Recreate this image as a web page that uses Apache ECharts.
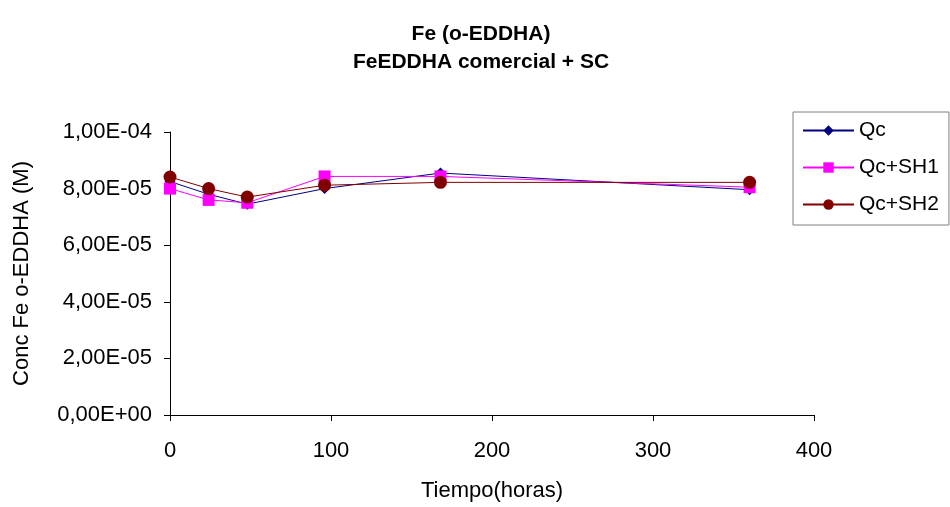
<!DOCTYPE html>
<html><head><meta charset="utf-8">
<script src="https://cdn.jsdelivr.net/npm/echarts@6/dist/echarts.min.js"></script>
<style>html,body{margin:0;padding:0;background:#fff}#c{width:950px;height:507px}</style>
</head><body><div id="c"></div>
<script>
const hours = [0, 24, 48, 96, 168, 360];
const qc = [8.25e-5, 7.8e-5, 7.45e-5, 8.0e-5, 8.55e-5, 7.96e-5];
const qcSH1 = [8.0e-5, 7.6e-5, 7.5e-5, 8.43e-5, 8.43e-5, 8.05e-5];
const qcSH2 = [8.41e-5, 8.0e-5, 7.7e-5, 8.12e-5, 8.22e-5, 8.22e-5];
const seriesNames = ['Qc', 'Qc+SH1', 'Qc+SH2'];
const titleText = 'Fe (o-EDDHA)\nFeEDDHA comercial + SC';
const xName = 'Tiempo(horas)';
const yName = 'Conc Fe o-EDDHA (M)';

function fmt(v){
  if (v === 0) return '0,00E+00';
  let s = v.toExponential(2);
  let [m, e] = s.split('e');
  let sign = e[0] === '-' ? '-' : '+';
  let d = e.replace(/[+-]/, '');
  if (d.length < 2) d = '0' + d;
  return m.replace('.', ',') + 'E' + sign + d;
}
const pair = arr => hours.map((h, i) => [h, arr[i]]);
const font = 'Liberation Sans, Arial, sans-serif';
const fs = 22;
const chart = echarts.init(document.getElementById('c'));
chart.setOption({
  animation: false,
  backgroundColor: '#fff',
  title: {
    text: titleText, left: 476, textAlign: 'center', top: 15,
    textStyle: {fontFamily: font, fontSize: 21, fontWeight: 'bold', color: '#000', lineHeight: 28}
  },
  grid: {left: 170, right: 136, top: 132, bottom: 90},
  legend: {
    orient: 'vertical', left: 793, top: 112,
    borderColor: '#808080', borderWidth: 1, padding: [8, 10, 10, 9],
    itemWidth: 51, itemHeight: 13, itemGap: 16,
    textStyle: {fontFamily: font, fontSize: 21, color: '#000', padding: [0, 0, 0, 0]},
    data: seriesNames
  },
  xAxis: {
    type: 'value', min: 0, max: 400, interval: 100,
    name: xName, nameLocation: 'middle', nameGap: 65,
    nameTextStyle: {fontFamily: font, fontSize: fs, color: '#000'},
    axisLine: {lineStyle: {color: '#000'}},
    axisTick: {lineStyle: {color: '#000'}, length: 6},
    axisLabel: {fontFamily: font, fontSize: fs, color: '#000', margin: 25},
    splitLine: {show: false}
  },
  yAxis: {
    type: 'value', min: 0, max: 1e-4, interval: 2e-5,
    name: yName, nameLocation: 'middle', nameGap: 137,
    nameTextStyle: {fontFamily: font, fontSize: fs, color: '#000'},
    axisLine: {show: true, lineStyle: {color: '#000'}},
    axisTick: {show: true, lineStyle: {color: '#000'}, length: 6},
    axisLabel: {fontFamily: font, fontSize: fs, color: '#000', margin: 18, formatter: fmt},
    splitLine: {show: false}
  },
  series: [
    {name: seriesNames[0], type: 'line', data: pair(qc), symbol: 'diamond', symbolSize: 11,
     itemStyle: {color: '#000080'}, lineStyle: {color: '#000080', width: 1}},
    {name: seriesNames[1], type: 'line', data: pair(qcSH1), symbol: 'rect', symbolSize: 12,
     itemStyle: {color: '#FF00FF'}, lineStyle: {color: '#FF00FF', width: 1}},
    {name: seriesNames[2], type: 'line', data: pair(qcSH2), symbol: 'circle', symbolSize: 13,
     itemStyle: {color: '#800000'}, lineStyle: {color: '#800000', width: 1}}
  ]
});
</script></body></html>
